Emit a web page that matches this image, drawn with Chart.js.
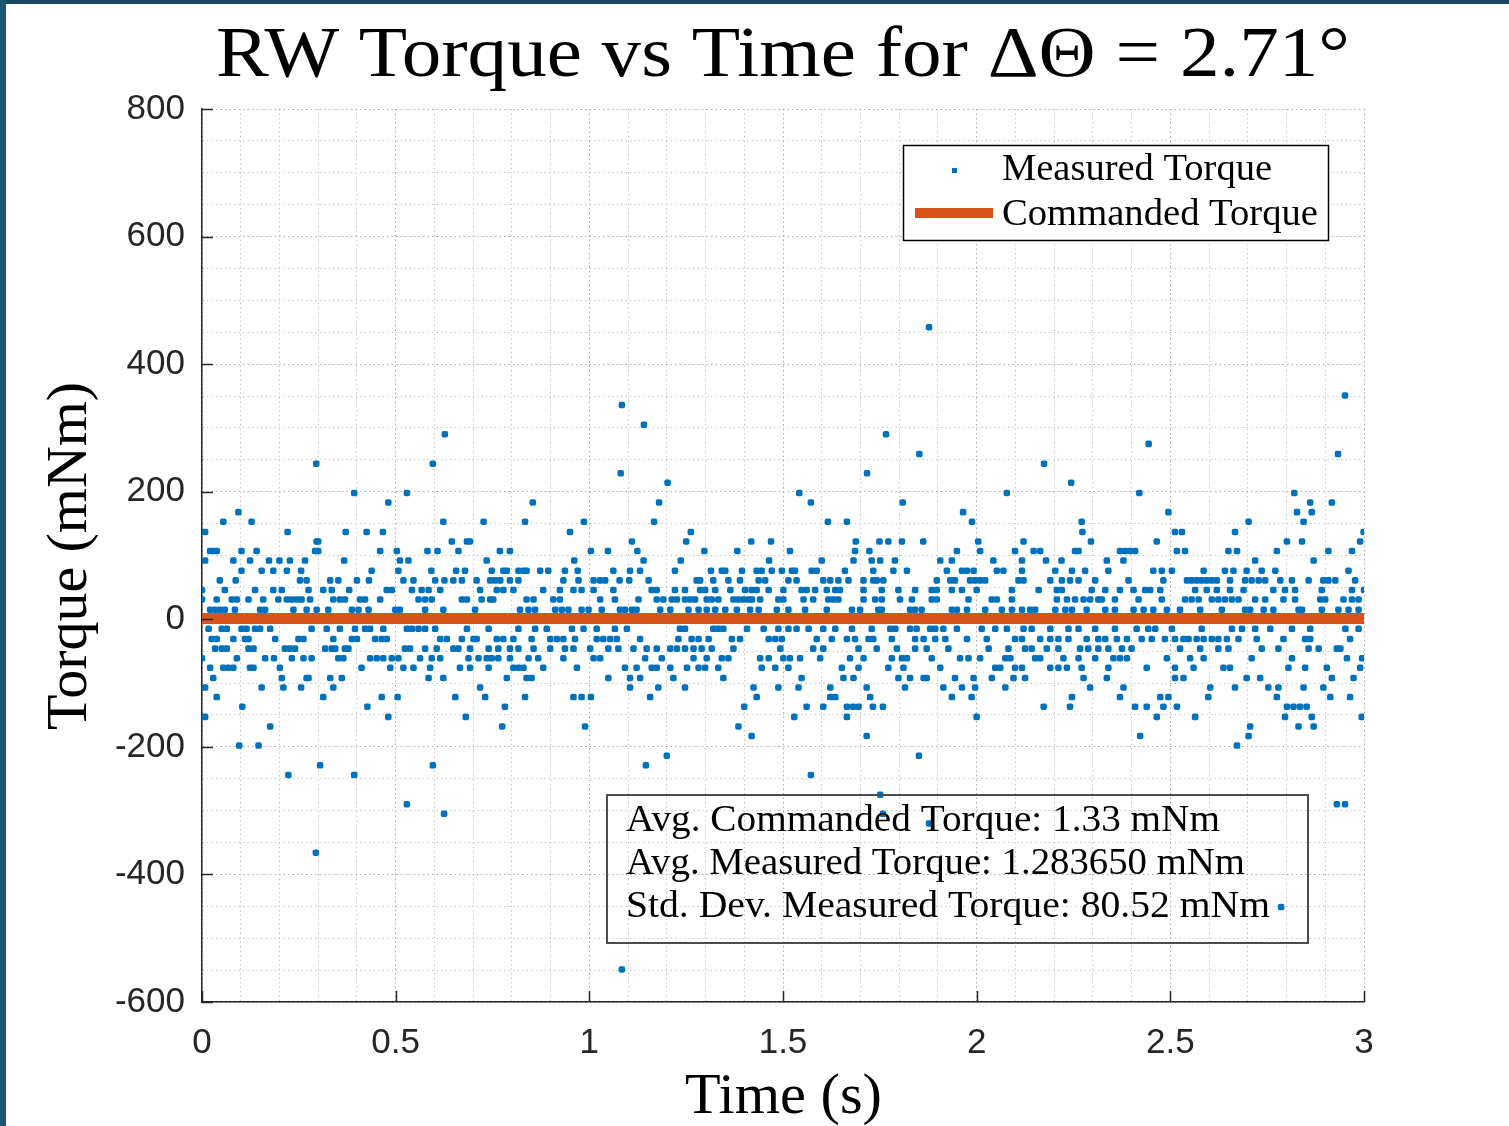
<!DOCTYPE html>
<html>
<head>
<meta charset="utf-8">
<script src="https://cdn.jsdelivr.net/npm/chart.js@4.4.1/dist/chart.umd.min.js"></script>
<style>
  html, body { margin: 0; padding: 0; background: #fff; }
  canvas { display: block; }
</style>
</head>
<body>
<canvas id="myChart" width="1509" height="1126"></canvas>
<script>
// measured torque samples (mNm), grouped by the quantised level they sit on; times in s
const tAtP458 = [1.877];
const tAtP351 = [2.951];
const tAtP336 = [1.084];
const tAtP305 = [1.141];
const tAtP290 = [0.627, 1.766];
const tAtP275 = [2.444];
const tAtP259 = [1.852, 2.933];
const tAtP244 = [0.295, 0.596, 2.174];
const tAtP229 = [1.081, 1.717];
const tAtP214 = [1.202, 2.244];
const tAtP198 = [0.393, 0.529, 1.542, 2.078, 2.420, 2.820];
const tAtP183 = [0.481, 0.854, 1.180, 1.572, 1.809, 2.861, 2.917];
const tAtP168 = [0.094, 1.965, 2.495, 2.827, 2.865];
const tAtP153 = [0.055, 0.128, 0.623, 0.727, 0.834, 0.986, 1.167, 1.616, 1.665, 1.988, 2.271, 2.702, 2.844];
const tAtP137 = [0.008, 0.221, 0.371, 0.425, 0.467, 0.950, 1.262, 2.273, 2.512, 2.530, 2.667, 2.999];
const tAtP122 = [0.296, 0.300, 0.645, 0.684, 0.692, 1.110, 1.250, 1.418, 1.469, 1.688, 1.749, 1.772, 1.807, 1.862,
  2.004, 2.121, 2.295, 2.465, 2.801, 2.840, 2.990];
const tAtP107 = [0.021, 0.029, 0.038, 0.102, 0.141, 0.292, 0.300, 0.460, 0.503, 0.582, 0.608, 0.662, 0.769, 0.795,
  1.004, 1.048, 1.124, 1.297, 1.382, 1.518, 1.686, 1.723, 1.949, 2.009, 2.099, 2.147, 2.164, 2.254, 2.263, 2.370,
  2.383, 2.396, 2.409, 2.517, 2.538, 2.650, 2.672, 2.775, 2.908, 2.969];
const tAtP92 = [0.008, 0.081, 0.124, 0.173, 0.200, 0.227, 0.266, 0.367, 0.511, 0.533, 0.735, 0.961, 1.140, 1.236,
  1.464, 1.600, 1.682, 1.729, 1.751, 1.789, 1.906, 1.936, 2.043, 2.117, 2.179, 2.219, 2.336, 2.379, 2.719, 2.870];
const tAtP76 = [0.102, 0.154, 0.184, 0.219, 0.256, 0.438, 0.507, 0.592, 0.656, 0.679, 0.748, 0.778, 0.787, 0.817,
  0.830, 0.838, 0.873, 0.894, 0.937, 0.970, 1.062, 1.105, 1.131, 1.221, 1.314, 1.342, 1.351, 1.394, 1.432, 1.445,
  1.471, 1.497, 1.523, 1.531, 1.574, 1.587, 1.660, 1.733, 1.785, 1.820, 1.923, 1.962, 1.975, 1.992, 2.052, 2.069,
  2.117, 2.203, 2.246, 2.280, 2.340, 2.456, 2.478, 2.504, 2.586, 2.641, 2.663, 2.697, 2.736, 2.771, 2.960];
const tAtP61 = [0.046, 0.087, 0.253, 0.270, 0.331, 0.352, 0.400, 0.431, 0.520, 0.546, 0.602, 0.626, 0.649, 0.671,
  0.709, 0.744, 0.757, 0.770, 0.795, 0.817, 0.933, 0.972, 1.011, 1.028, 1.041, 1.078, 1.103, 1.153, 1.277, 1.286,
  1.320, 1.359, 1.389, 1.437, 1.454, 1.514, 1.535, 1.604, 1.622, 1.643, 1.669, 1.708, 1.733, 1.742, 1.759, 1.897,
  1.932, 1.944, 1.983, 1.996, 2.009, 2.022, 2.108, 2.121, 2.190, 2.220, 2.241, 2.263, 2.306, 2.392, 2.482, 2.543,
  2.555, 2.568, 2.581, 2.594, 2.607, 2.620, 2.654, 2.693, 2.710, 2.728, 2.745, 2.784, 2.814, 2.857, 2.895, 2.908,
  2.926, 2.977];
const tAtP46 = [0.000, 0.059, 0.137, 0.184, 0.206, 0.275, 0.313, 0.335, 0.380, 0.477, 0.490, 0.542, 0.567, 0.585,
  0.615, 0.718, 0.761, 0.778, 0.804, 0.881, 0.924, 0.959, 0.980, 1.011, 1.062, 1.161, 1.174, 1.221, 1.247, 1.286,
  1.299, 1.325, 1.364, 1.402, 1.419, 1.432, 1.463, 1.501, 1.548, 1.561, 1.583, 1.613, 1.635, 1.647, 1.708, 1.755,
  1.798, 1.841, 1.884, 1.897, 1.936, 1.962, 2.000, 2.091, 2.160, 2.207, 2.220, 2.297, 2.332, 2.370, 2.405, 2.435,
  2.448, 2.474, 2.564, 2.594, 2.620, 2.654, 2.689, 2.766, 2.796, 2.822, 2.891, 2.969, 3.000];
const tAtP31 = [0.000, 0.038, 0.077, 0.090, 0.120, 0.158, 0.197, 0.219, 0.232, 0.245, 0.257, 0.279, 0.339, 0.356,
  0.369, 0.408, 0.421, 0.460, 0.559, 0.576, 0.593, 0.671, 0.684, 0.722, 0.744, 0.752, 0.838, 0.856, 0.907, 0.924,
  1.028, 1.066, 1.127, 1.174, 1.191, 1.213, 1.226, 1.247, 1.260, 1.273, 1.303, 1.316, 1.333, 1.372, 1.385, 1.398,
  1.411, 1.420, 1.441, 1.488, 1.501, 1.553, 1.578, 1.617, 1.630, 1.643, 1.708, 1.738, 1.755, 1.802, 1.833, 1.884,
  1.897, 1.979, 2.039, 2.052, 2.091, 2.207, 2.233, 2.254, 2.276, 2.293, 2.314, 2.323, 2.357, 2.418, 2.478, 2.538,
  2.555, 2.573, 2.607, 2.624, 2.641, 2.659, 2.676, 2.719, 2.745, 2.792, 2.822, 2.887, 2.900, 2.947, 2.969, 2.986];
const tAtP15 = [0.021, 0.034, 0.046, 0.059, 0.085, 0.150, 0.163, 0.236, 0.270, 0.296, 0.326, 0.387, 0.404, 0.430,
  0.499, 0.511, 0.576, 0.623, 0.705, 0.821, 0.843, 0.860, 0.912, 0.929, 0.946, 0.980, 0.998, 1.032, 1.079, 1.092,
  1.110, 1.122, 1.183, 1.209, 1.256, 1.282, 1.303, 1.325, 1.351, 1.381, 1.415, 1.437, 1.484, 1.514, 1.557, 1.613,
  1.678, 1.699, 1.746, 1.755, 1.828, 1.841, 1.858, 1.936, 1.949, 1.975, 2.022, 2.065, 2.091, 2.117, 2.138, 2.151,
  2.203, 2.229, 2.246, 2.284, 2.332, 2.357, 2.405, 2.431, 2.456, 2.491, 2.525, 2.577, 2.633, 2.693, 2.706, 2.741,
  2.766, 2.831, 2.840, 2.891, 2.934, 2.960, 2.986];
const tAtN15 = [0.017, 0.051, 0.064, 0.102, 0.115, 0.137, 0.150, 0.176, 0.283, 0.322, 0.356, 0.395, 0.421, 0.434,
  0.468, 0.529, 0.542, 0.559, 0.576, 0.602, 0.684, 0.740, 0.817, 0.860, 0.890, 0.955, 0.985, 1.019, 1.066, 1.097,
  1.234, 1.247, 1.320, 1.333, 1.346, 1.407, 1.450, 1.488, 1.514, 1.535, 1.566, 1.604, 1.635, 1.678, 1.729, 1.777,
  1.790, 1.828, 1.845, 1.880, 1.893, 1.914, 1.949, 2.013, 2.048, 2.078, 2.121, 2.142, 2.190, 2.237, 2.263, 2.306,
  2.357, 2.413, 2.443, 2.461, 2.504, 2.581, 2.659, 2.685, 2.719, 2.758, 2.814, 2.861, 2.952, 2.986];
const tAtN31 = [0.025, 0.038, 0.081, 0.111, 0.120, 0.189, 0.249, 0.262, 0.339, 0.387, 0.400, 0.447, 0.464, 0.477,
  0.615, 0.632, 0.671, 0.701, 0.709, 0.761, 0.778, 0.804, 0.851, 0.899, 0.916, 0.933, 0.963, 1.019, 1.036, 1.054,
  1.071, 1.131, 1.230, 1.264, 1.282, 1.308, 1.368, 1.389, 1.463, 1.480, 1.497, 1.587, 1.626, 1.665, 1.686, 1.721,
  1.733, 1.781, 1.841, 1.863, 1.893, 1.919, 1.975, 2.026, 2.099, 2.117, 2.164, 2.190, 2.211, 2.237, 2.284, 2.314,
  2.332, 2.362, 2.388, 2.426, 2.452, 2.486, 2.512, 2.534, 2.547, 2.568, 2.586, 2.607, 2.624, 2.646, 2.676, 2.723,
  2.792, 2.848, 2.861, 2.964];
const tAtN46 = [0.034, 0.051, 0.064, 0.120, 0.133, 0.214, 0.227, 0.240, 0.318, 0.335, 0.344, 0.369, 0.378, 0.524,
  0.537, 0.576, 0.606, 0.649, 0.662, 0.692, 0.740, 0.765, 0.795, 0.817, 0.856, 0.899, 0.937, 0.959, 1.002, 1.049,
  1.075, 1.114, 1.148, 1.174, 1.209, 1.226, 1.247, 1.269, 1.290, 1.316, 1.372, 1.493, 1.578, 1.604, 1.695, 1.742,
  1.794, 1.841, 1.871, 1.927, 2.031, 2.082, 2.125, 2.142, 2.181, 2.211, 2.267, 2.288, 2.314, 2.340, 2.375, 2.400,
  2.525, 2.577, 2.624, 2.650, 2.736, 2.779, 2.857, 2.883, 2.930, 2.939];
const tAtN61 = [0.000, 0.090, 0.163, 0.186, 0.232, 0.262, 0.283, 0.352, 0.365, 0.434, 0.451, 0.468, 0.490, 0.507,
  0.563, 0.593, 0.615, 0.688, 0.714, 0.735, 0.748, 0.765, 0.795, 0.843, 0.868, 0.933, 1.011, 1.028, 1.144, 1.187,
  1.269, 1.303, 1.342, 1.359, 1.441, 1.463, 1.501, 1.518, 1.544, 1.596, 1.673, 1.708, 1.781, 1.807, 1.820, 1.884,
  1.957, 1.979, 2.009, 2.074, 2.087, 2.151, 2.164, 2.224, 2.263, 2.306, 2.353, 2.370, 2.388, 2.491, 2.551, 2.586,
  2.710, 2.814, 2.956, 2.995];
const tAtN76 = [0.021, 0.055, 0.068, 0.081, 0.124, 0.133, 0.201, 0.412, 0.486, 0.520, 0.546, 0.589, 0.666, 0.692,
  0.740, 0.804, 0.817, 0.830, 0.881, 0.968, 1.092, 1.122, 1.161, 1.174, 1.209, 1.252, 1.282, 1.299, 1.333, 1.445,
  1.480, 1.514, 1.652, 1.695, 1.772, 1.811, 1.906, 2.048, 2.061, 2.099, 2.117, 2.190, 2.211, 2.233, 2.271, 2.340,
  2.439, 2.512, 2.560, 2.637, 2.654, 2.805, 2.848, 2.904, 2.990];
const tAtN92 = [0.029, 0.206, 0.270, 0.275, 0.331, 0.361, 0.585, 0.623, 0.787, 0.838, 0.851, 1.049, 1.105, 1.131,
  1.217, 1.346, 1.548, 1.656, 1.682, 1.798, 1.828, 1.863, 1.871, 1.944, 1.992, 2.039, 2.095, 2.125, 2.276, 2.336,
  2.512, 2.534, 2.697, 2.732, 2.917, 2.973];
const tAtN107 = [0.008, 0.154, 0.210, 0.256, 0.339, 0.718, 1.105, 1.178, 1.247, 1.424, 1.488, 1.540, 1.622, 1.716,
  1.815, 1.914, 1.962, 1.996, 2.074, 2.293, 2.379, 2.603, 2.667, 2.753, 2.779, 2.844, 2.895];
const tAtN122 = [0.038, 0.313, 0.464, 0.505, 0.654, 0.731, 0.834, 0.959, 0.980, 1.004, 1.157, 1.432, 1.622, 1.635,
  1.725, 1.936, 1.987, 2.246, 2.370, 2.474, 2.495, 2.598, 2.775, 2.913, 2.964];
const tAtN137 = [0.104, 0.427, 0.782, 1.400, 1.561, 1.604, 1.665, 1.681, 1.695, 1.732, 1.758, 2.173, 2.241, 2.409,
  2.439, 2.482, 2.517, 2.801, 2.818, 2.835, 2.852];
const tAtN153 = [0.008, 0.481, 0.681, 1.529, 1.665, 2.000, 2.465, 2.564, 2.796, 2.865, 2.994];
const tAtN168 = [0.176, 0.775, 0.989, 1.385, 2.706, 2.831, 2.870];
const tAtN183 = [1.419, 1.716, 2.422, 2.702];
const tAtN198 = [0.096, 0.146, 2.672];
const tAtN214 = [1.200, 1.851];
const tAtN229 = [0.305, 0.596, 1.146];
const tAtN244 = [0.223, 0.393, 1.572];
const tAtN275 = [1.751];
const tAtN290 = [0.529, 2.930, 2.951];
const tAtN305 = [0.625, 1.758];
const tAtN320 = [1.877];
const tAtN366 = [0.294];
const tAtN451 = [2.786];
const tAtN549 = [1.084];

const measuredRows = [
  [458, tAtP458], [351, tAtP351], [336, tAtP336], [305, tAtP305], [290, tAtP290], [275, tAtP275],
  [259, tAtP259], [244, tAtP244], [229, tAtP229], [214, tAtP214], [198, tAtP198], [183, tAtP183],
  [168, tAtP168], [153, tAtP153], [137, tAtP137], [122, tAtP122], [107, tAtP107], [92, tAtP92],
  [76, tAtP76], [61, tAtP61], [46, tAtP46], [31, tAtP31], [15, tAtP15],
  [-15, tAtN15], [-31, tAtN31], [-46, tAtN46], [-61, tAtN61], [-76, tAtN76], [-92, tAtN92],
  [-107, tAtN107], [-122, tAtN122], [-137, tAtN137], [-153, tAtN153], [-168, tAtN168], [-183, tAtN183],
  [-198, tAtN198], [-214, tAtN214], [-229, tAtN229], [-244, tAtN244], [-275, tAtN275], [-290, tAtN290],
  [-305, tAtN305], [-320, tAtN320], [-366, tAtN366], [-451, tAtN451], [-549, tAtN549]
];

// commanded torque (mNm)
const commandedTime = [0, 3];
const commandedTorque = [1.33, 1.33];

// axis ticks
const xMajorTicks = [0, 0.5, 1, 1.5, 2, 2.5, 3];
const yMajorTicks = [-600, -400, -200, 0, 200, 400, 600, 800];

const statLines = [
  'Avg. Commanded Torque: 1.33 mNm',
  'Avg. Measured Torque: 1.283650 mNm',
  'Std. Dev. Measured Torque: 80.52 mNm'
];

const measured = [];
measuredRows.forEach(([torque, times]) => {
  times.forEach(t => measured.push({ x: t, y: torque }));
});
const commanded = commandedTime.map((t, i) => ({ x: t, y: commandedTorque[i] }));

const isMajor = (v, list) => list.some(m => Math.abs(m - v) < 1e-6);
const SERIF = '"Liberation Serif", "DejaVu Serif", serif';
const BLUE = '#0072BD';
const ORANGE = '#D95319';

// draw serif text stretched to the width it has in the picture
function serifText(c, str, x, y, size, width, rot) {
  c.save();
  c.font = size + 'px ' + SERIF;
  const w = c.measureText(str).width;
  c.translate(x, y);
  if (rot) c.rotate(rot);
  c.scale(width / w, 1);
  c.fillStyle = '#000';
  c.textAlign = 'left';
  c.textBaseline = 'alphabetic';
  c.fillText(str, 0, 0);
  c.restore();
}

const matlabLook = {
  id: 'matlabLook',
  beforeDraw(chart) {
    const c = chart.ctx;
    c.save();
    c.fillStyle = '#ffffff';
    c.fillRect(0, 0, chart.width, chart.height);
    c.fillStyle = '#18475f';
    c.fillRect(0, 0, chart.width, 4);
    c.fillStyle = '#1a5573';
    c.fillRect(0, 0, 6, chart.height);
    c.restore();
  },
  afterDraw(chart) {
    const c = chart.ctx;
    const xs = chart.scales.x, ys = chart.scales.y;
    const area = chart.chartArea;

    // inward tick marks
    c.save();
    c.strokeStyle = '#262626';
    c.lineWidth = 1.5;
    c.beginPath();
    xMajorTicks.forEach(v => {
      const px = Math.round(xs.getPixelForValue(v)) + 0.5;
      c.moveTo(px, area.bottom);
      c.lineTo(px, area.bottom - 11);
    });
    yMajorTicks.forEach(v => {
      const py = Math.round(ys.getPixelForValue(v)) + 0.5;
      c.moveTo(area.left, py);
      c.lineTo(area.left + 11, py);
    });
    c.stroke();
    c.restore();

    // title and axis labels
    serifText(c, 'RW Torque vs Time for \u0394\u0398 = 2.71\u00B0', 216, 76, 72, 1134);
    serifText(c, 'Time (s)', 685, 1113, 56, 197);
    serifText(c, 'Torque (mNm)', 86, 730, 56, 348, -Math.PI / 2);

    // legend
    c.save();
    c.fillStyle = '#fff';
    c.fillRect(903, 145, 425, 95);
    c.strokeStyle = '#000';
    c.lineWidth = 1.5;
    c.strokeRect(903.5, 145.5, 425, 95);
    c.fillStyle = BLUE;
    c.fillRect(952, 168, 5, 5);
    c.strokeStyle = ORANGE;
    c.lineWidth = 10;
    c.beginPath();
    c.moveTo(915, 213);
    c.lineTo(993, 213);
    c.stroke();
    c.restore();
    serifText(c, chart.data.datasets[0].label, 1002, 180, 37, 270);
    serifText(c, chart.data.datasets[1].label, 1002, 225, 37, 316);

    // statistics box
    c.save();
    c.strokeStyle = '#4d4d4d';
    c.lineWidth = 2;
    c.strokeRect(607, 795, 701, 148);
    c.restore();
    const statWidths = [594, 619, 644];
    statLines.forEach((s, i) => serifText(c, s, 626, 831 + i * 43, 37, statWidths[i]));
  }
};

const ctx = document.getElementById('myChart').getContext('2d');

const myScatter = new Chart(ctx, {
  type: 'scatter',
  data: {
    datasets: [{
      label: 'Measured Torque',
      data: measured,
      pointStyle: 'rectRounded',
      pointRadius: 3.8,
      pointBackgroundColor: BLUE,
      pointBorderWidth: 0,
      order: 2
    }, {
      type: 'line',
      label: 'Commanded Torque',
      data: commanded,
      borderColor: ORANGE,
      borderWidth: 11,
      pointRadius: 0,
      fill: false,
      order: 1
    }]
  },
  options: {
    responsive: false,
    animation: false,
    events: [],
    layout: { padding: { left: 0, right: 145, top: 109, bottom: 0 } },
    plugins: {
      legend: { display: false },
      tooltip: { enabled: false },
      title: { display: false }
    },
    scales: {
      x: {
        type: 'linear',
        min: 0,
        max: 3,
        afterFit: s => { s.height = 124; },
        ticks: {
          stepSize: 0.1,
          autoSkip: false,
          maxRotation: 0,
          padding: 20,
          color: '#262626',
          font: { family: '"Liberation Sans", Arial, sans-serif', size: 35 },
          callback: v => isMajor(v, xMajorTicks) ? String(Math.round(v * 10) / 10) : ''
        },
        grid: {
          drawTicks: false,
          lineWidth: 1,
          color: c => (c.tick && isMajor(c.tick.value, xMajorTicks)) ? '#a9a9a9' : '#c6c6c6'
        },
        border: { display: true, color: '#262626', width: 1.5, dash: [1.5, 3] }
      },
      y: {
        min: -600,
        max: 800,
        afterFit: s => { s.width = 202; },
        ticks: {
          stepSize: 50,
          autoSkip: false,
          padding: 17,
          color: '#262626',
          font: { family: '"Liberation Sans", Arial, sans-serif', size: 35 },
          callback: v => isMajor(v, yMajorTicks) ? String(v) : ''
        },
        grid: {
          drawTicks: false,
          lineWidth: 1,
          color: c => (c.tick && isMajor(c.tick.value, yMajorTicks)) ? '#a9a9a9' : '#c6c6c6'
        },
        border: { display: true, color: '#262626', width: 1.5, dash: [1.5, 3] }
      }
    }
  },
  plugins: [matlabLook]
});
</script>
</body>
</html>
